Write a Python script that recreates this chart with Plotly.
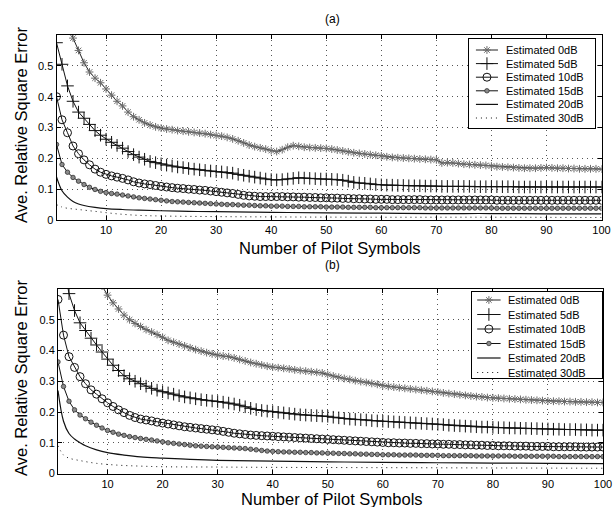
import plotly.graph_objects as go

x_full = list(range(1, 101))

# ---------------- panel (a) ----------------
a_0db = [0.85, 0.74, 0.65, 0.59, 0.55, 0.51, 0.48, 0.46, 0.445, 0.425,
         0.405, 0.385, 0.37, 0.35, 0.335, 0.325, 0.315, 0.308, 0.302, 0.298,
         0.295, 0.293, 0.29, 0.288, 0.286, 0.284, 0.282, 0.28, 0.277, 0.274,
         0.272, 0.268, 0.263, 0.257, 0.25, 0.243, 0.238, 0.234, 0.23, 0.225,
         0.222, 0.228, 0.236, 0.241, 0.239, 0.236, 0.235, 0.234, 0.233, 0.232,
         0.23, 0.227, 0.224, 0.221, 0.218, 0.216, 0.214, 0.212, 0.21, 0.208,
         0.205, 0.203, 0.202, 0.201, 0.2, 0.199, 0.198, 0.197, 0.196, 0.195,
         0.185, 0.186, 0.185, 0.183, 0.181, 0.18, 0.179, 0.178, 0.177, 0.175,
         0.173, 0.172, 0.171, 0.17, 0.169, 0.168, 0.168, 0.168, 0.169, 0.17,
         0.169, 0.168, 0.168, 0.167, 0.167, 0.166, 0.166, 0.166, 0.166, 0.165]
a_5db = [0.575, 0.505, 0.435, 0.385, 0.35, 0.33, 0.31, 0.29, 0.275, 0.262,
         0.252, 0.242, 0.233, 0.222, 0.212, 0.204, 0.197, 0.19, 0.186, 0.182,
         0.178, 0.175, 0.172, 0.17, 0.167, 0.165, 0.163, 0.161, 0.159, 0.157,
         0.156, 0.154, 0.152, 0.148, 0.145, 0.142, 0.139, 0.136, 0.133, 0.131,
         0.13, 0.131, 0.133, 0.135, 0.137, 0.136, 0.135, 0.134, 0.133, 0.133,
         0.132, 0.131, 0.129, 0.126, 0.122, 0.12, 0.119, 0.117, 0.115, 0.114,
         0.113, 0.113, 0.112, 0.112, 0.111, 0.111, 0.111, 0.11, 0.11, 0.11,
         0.109, 0.109, 0.109, 0.109, 0.109, 0.109, 0.108, 0.108, 0.108, 0.108,
         0.108, 0.108, 0.108, 0.108, 0.107, 0.107, 0.107, 0.107, 0.107, 0.107,
         0.107, 0.107, 0.107, 0.107, 0.107, 0.107, 0.107, 0.107, 0.107, 0.107]
a_10db = [0.40, 0.325, 0.283, 0.24, 0.215, 0.195, 0.179, 0.165, 0.155, 0.148,
          0.143, 0.139, 0.135, 0.13, 0.124, 0.12, 0.117, 0.115, 0.112, 0.109,
          0.107, 0.105, 0.103, 0.102, 0.1, 0.099, 0.097, 0.096, 0.094, 0.092,
          0.09, 0.088, 0.086, 0.083, 0.08, 0.078, 0.077, 0.076, 0.076, 0.076,
          0.076, 0.076, 0.075, 0.075, 0.074, 0.074, 0.073, 0.073, 0.072, 0.072,
          0.071, 0.071, 0.07, 0.07, 0.069, 0.069, 0.068, 0.068, 0.067, 0.067,
          0.067, 0.066, 0.066, 0.066, 0.066, 0.066, 0.066, 0.065, 0.065, 0.065,
          0.065, 0.065, 0.065, 0.065, 0.065, 0.065, 0.065, 0.065, 0.065, 0.065,
          0.064, 0.064, 0.064, 0.064, 0.064, 0.064, 0.064, 0.064, 0.064, 0.064,
          0.064, 0.064, 0.064, 0.064, 0.064, 0.064, 0.064, 0.064, 0.064, 0.064]
a_15db = [0.245, 0.18, 0.155, 0.138, 0.126, 0.115, 0.106, 0.099, 0.093, 0.089,
          0.086, 0.084, 0.081, 0.078, 0.075, 0.072, 0.07, 0.068, 0.066, 0.064,
          0.062, 0.06, 0.059, 0.058, 0.057, 0.056, 0.055, 0.054, 0.053, 0.052,
          0.051, 0.05, 0.05, 0.049, 0.048, 0.048, 0.047, 0.046, 0.046, 0.045,
          0.045, 0.045, 0.044, 0.044, 0.044, 0.043, 0.043, 0.043, 0.043, 0.042,
          0.042, 0.042, 0.042, 0.041, 0.041, 0.041, 0.041, 0.041, 0.04, 0.04,
          0.04, 0.04, 0.04, 0.04, 0.04, 0.04, 0.04, 0.039, 0.039, 0.039,
          0.039, 0.039, 0.039, 0.039, 0.039, 0.039, 0.039, 0.039, 0.039, 0.039,
          0.038, 0.038, 0.038, 0.038, 0.038, 0.038, 0.038, 0.038, 0.038, 0.038,
          0.038, 0.038, 0.038, 0.038, 0.038, 0.038, 0.038, 0.038, 0.038, 0.038]
a_20db_x = [1, 2, 3, 4, 5, 6, 8, 10, 13, 16, 20, 25, 30, 40, 50, 60, 70, 80, 90, 100]
a_20db = [0.14, 0.095, 0.074, 0.06, 0.052, 0.047, 0.041, 0.037, 0.034, 0.032,
          0.03, 0.028, 0.027, 0.025, 0.023, 0.022, 0.021, 0.021, 0.02, 0.02]
a_30db_x = [1, 2, 3, 5, 8, 12, 16, 20, 30, 40, 60, 80, 100]
a_30db = [0.05, 0.042, 0.038, 0.034, 0.028, 0.02, 0.015, 0.013, 0.011, 0.01, 0.009, 0.009, 0.008]

# ---------------- panel (b) ----------------
b_0db = [1.2, 1.05, 0.95, 0.86, 0.79, 0.73, 0.68, 0.64, 0.61, 0.58,
         0.555, 0.535, 0.515, 0.5, 0.488, 0.478, 0.468, 0.46, 0.452, 0.443,
         0.433, 0.427, 0.421, 0.415, 0.409, 0.403, 0.398, 0.393, 0.389, 0.385,
         0.382, 0.38, 0.376, 0.371, 0.366, 0.361, 0.357, 0.353, 0.349, 0.346,
         0.344, 0.342, 0.34, 0.337, 0.335, 0.333, 0.331, 0.329, 0.327, 0.322,
         0.317, 0.313, 0.309, 0.306, 0.302, 0.299, 0.296, 0.293, 0.29, 0.286,
         0.283, 0.281, 0.279, 0.277, 0.275, 0.273, 0.271, 0.269, 0.267, 0.265,
         0.262, 0.26, 0.258, 0.256, 0.254, 0.252, 0.25, 0.249, 0.247, 0.246,
         0.245, 0.244, 0.243, 0.242, 0.241, 0.24, 0.239, 0.238, 0.237, 0.236,
         0.235, 0.235, 0.234, 0.234, 0.233, 0.233, 0.232, 0.232, 0.231, 0.231]
b_5db = [0.8, 0.68, 0.585, 0.53, 0.49, 0.465, 0.44, 0.418, 0.395, 0.372,
         0.352, 0.335, 0.318, 0.308, 0.3, 0.292, 0.284, 0.277, 0.271, 0.266,
         0.262, 0.258, 0.253, 0.249, 0.246, 0.243, 0.24, 0.238, 0.236, 0.234,
         0.232, 0.229, 0.226, 0.222, 0.217, 0.212, 0.208, 0.205, 0.203, 0.201,
         0.199, 0.197, 0.195, 0.193, 0.191, 0.19, 0.189, 0.188, 0.187, 0.186,
         0.183, 0.181, 0.179, 0.177, 0.176, 0.175, 0.174, 0.172, 0.171, 0.17,
         0.169, 0.168, 0.167, 0.166, 0.165, 0.164, 0.163, 0.162, 0.161, 0.16,
         0.159, 0.157, 0.156, 0.155, 0.154, 0.153, 0.152, 0.151, 0.151, 0.15,
         0.149, 0.149, 0.148, 0.148, 0.147, 0.147, 0.146, 0.146, 0.145, 0.145,
         0.144, 0.144, 0.143, 0.143, 0.143, 0.142, 0.142, 0.141, 0.141, 0.141]
b_10db = [0.566, 0.45, 0.38, 0.345, 0.315, 0.292, 0.272, 0.258, 0.243, 0.23,
          0.218, 0.207, 0.198, 0.189, 0.182, 0.177, 0.174, 0.171, 0.167, 0.164,
          0.161, 0.158, 0.155, 0.152, 0.15, 0.148, 0.146, 0.144, 0.142, 0.14,
          0.137, 0.134, 0.131, 0.129, 0.127, 0.125, 0.124, 0.123, 0.122, 0.121,
          0.12, 0.119, 0.118, 0.117, 0.116, 0.115, 0.114, 0.113, 0.112, 0.111,
          0.11, 0.109, 0.108, 0.107, 0.106, 0.105, 0.104, 0.103, 0.102, 0.101,
          0.1, 0.1, 0.099, 0.099, 0.098, 0.098, 0.097, 0.097, 0.096, 0.096,
          0.095, 0.095, 0.094, 0.094, 0.093, 0.093, 0.092, 0.092, 0.091, 0.091,
          0.09, 0.09, 0.09, 0.089, 0.089, 0.089, 0.088, 0.088, 0.088, 0.088,
          0.087, 0.087, 0.087, 0.087, 0.087, 0.086, 0.086, 0.086, 0.086, 0.086]
b_15db = [0.363, 0.283, 0.235, 0.207, 0.19, 0.178, 0.167, 0.157, 0.148, 0.14,
          0.134, 0.128, 0.124, 0.12, 0.117, 0.114, 0.111, 0.109, 0.106, 0.103,
          0.1, 0.098, 0.096, 0.094, 0.092, 0.09, 0.089, 0.088, 0.087, 0.086,
          0.085, 0.084, 0.083, 0.082, 0.081, 0.079, 0.077, 0.075, 0.073, 0.072,
          0.071, 0.07, 0.07, 0.069, 0.069, 0.068, 0.068, 0.067, 0.067, 0.066,
          0.066, 0.065, 0.065, 0.064, 0.064, 0.063, 0.063, 0.062, 0.062, 0.061,
          0.061, 0.061, 0.06, 0.06, 0.06, 0.06, 0.059, 0.059, 0.059, 0.059,
          0.058, 0.058, 0.058, 0.058, 0.058, 0.058, 0.057, 0.057, 0.057, 0.057,
          0.057, 0.057, 0.057, 0.056, 0.056, 0.056, 0.056, 0.056, 0.056, 0.056,
          0.056, 0.055, 0.055, 0.055, 0.055, 0.055, 0.055, 0.055, 0.055, 0.055]
b_20db_x = [1, 2, 3, 4, 5, 6, 8, 10, 13, 16, 20, 25, 30, 40, 50, 60, 70, 80, 90, 100]
b_20db = [0.27, 0.17, 0.13, 0.112, 0.1, 0.09, 0.077, 0.068, 0.06, 0.054,
          0.05, 0.046, 0.043, 0.04, 0.038, 0.036, 0.035, 0.034, 0.033, 0.032]
b_30db_x = [1, 2, 3, 5, 8, 12, 16, 20, 30, 40, 60, 80, 100]
b_30db = [0.09, 0.06, 0.05, 0.042, 0.033, 0.027, 0.024, 0.022, 0.021, 0.02, 0.019, 0.018, 0.017]

names = ["Estimated 0dB", "Estimated 5dB", "Estimated 10dB",
         "Estimated 15dB", "Estimated 20dB", "Estimated 30dB"]
x_ticks = [10, 20, 30, 40, 50, 60, 70, 80, 90, 100]
y_ticks = [0, 0.1, 0.2, 0.3, 0.4, 0.5]
y_tick_text = ["0", "0.1", "0.2", "0.3", "0.4", "0.5"]

FONT = "Liberation Sans, Arial, sans-serif"
W, H = 614, 507

# series styles (line, marker) in legend order
STYLES = [
    (dict(color="#222", width=1),
     dict(symbol="asterisk-open", size=6.5, color="#6a6a6a",
          line=dict(color="#6a6a6a", width=1))),
    (dict(color="#111", width=1),
     dict(symbol="cross-thin-open", size=9, color="#111",
          line=dict(color="#111", width=1))),
    (dict(color="#111", width=1),
     dict(symbol="circle-open", size=8, color="#111",
          line=dict(color="#111", width=1))),
    (dict(color="#111", width=1),
     dict(symbol="circle", size=4.5, color="#8a8a8a", line=dict(color="#222", width=0.7))),
    (dict(color="#111", width=1.2, shape="spline"), None),
    (dict(color="#111", width=1, dash="1px,4px", shape="spline"), None),
]

fig = go.Figure()


def add_panel(series, xa, ya):
    for i, (xs, ys) in enumerate(series):
        line, marker = STYLES[i]
        if marker is not None:
            fig.add_trace(go.Scatter(x=xs, y=ys, name=names[i], mode="lines+markers",
                                     line=line, marker=marker, showlegend=False,
                                     xaxis=xa, yaxis=ya))
        else:
            fig.add_trace(go.Scatter(x=xs, y=ys, name=names[i], mode="lines",
                                     line=line, showlegend=False, xaxis=xa, yaxis=ya))


add_panel([(x_full, a_0db), (x_full, a_5db), (x_full, a_10db), (x_full, a_15db),
           (a_20db_x, a_20db), (a_30db_x, a_30db)], "x", "y")
add_panel([(x_full, b_0db), (x_full, b_5db), (x_full, b_10db), (x_full, b_15db),
           (b_20db_x, b_20db), (b_30db_x, b_30db)], "x2", "y2")


def px_x(p):
    return p / W


def px_y(p):
    return 1 - p / H


# ---- custom legends drawn on overlay axes (box coordinates 0..1) ----
ann = []


def add_legend(xa, ya, top_frac, step_frac, line_x0, line_x1, text_x):
    fig.add_trace(go.Scatter(x=[0, 1, 1, 0, 0], y=[0, 0, 1, 1, 0], fill="toself",
                             fillcolor="white", mode="lines", line=dict(width=0),
                             showlegend=False, hoverinfo="skip", xaxis=xa, yaxis=ya))
    for i, nm in enumerate(names):
        yy = 1 - top_frac - i * step_frac
        line, marker = STYLES[i]
        fig.add_trace(go.Scatter(x=[line_x0, line_x1], y=[yy, yy], mode="lines",
                                 line=line, showlegend=False, hoverinfo="skip",
                                 xaxis=xa, yaxis=ya))
        if marker is not None:
            fig.add_trace(go.Scatter(x=[(line_x0 + line_x1) / 2], y=[yy], mode="markers",
                                     marker=marker, showlegend=False, hoverinfo="skip",
                                     xaxis=xa, yaxis=ya))
        ann.append(dict(text=nm, x=text_x, y=yy, xref=xa, yref=ya, xanchor="left",
                        yanchor="middle", showarrow=False,
                        font=dict(family=FONT, size=11, color="black")))


add_legend("x3", "y3", 11 / 89, 13.6 / 89, 0.055, 0.23, 0.275)
add_legend("x4", "y4", 8 / 86, 14.5 / 86, 0.04, 0.22, 0.26)

axis_common = dict(showline=True, linecolor="black", linewidth=1, mirror="ticks",
                   ticks="inside", ticklen=4, tickcolor="black", automargin=False,
                   showgrid=True, gridcolor="#555", griddash="1px,4px", gridwidth=1,
                   zeroline=False, tickfont=dict(family=FONT, size=11, color="black"))
box_axis = dict(showline=True, linecolor="black", linewidth=1, mirror=True,
                showgrid=False, zeroline=False, showticklabels=False, ticks="",
                range=[0, 1], automargin=False, fixedrange=True)

fig.update_layout(
    width=W, height=H, margin=dict(l=0, r=0, t=0, b=0, autoexpand=False),
    paper_bgcolor="white", plot_bgcolor="white", showlegend=False,
    font=dict(family=FONT, color="black"),
    xaxis=dict(domain=[px_x(56.5), px_x(601.5)], range=[1, 100], anchor="y",
               tickvals=x_ticks, **axis_common),
    yaxis=dict(domain=[px_y(220), px_y(35)], range=[0, 0.6], anchor="x",
               tickvals=y_ticks, ticktext=y_tick_text, **axis_common),
    xaxis2=dict(domain=[px_x(58), px_x(603)], range=[1, 100], anchor="y2",
                tickvals=x_ticks, **axis_common),
    yaxis2=dict(domain=[px_y(473.5), px_y(289)], range=[0, 0.6], anchor="x2",
                tickvals=y_ticks, ticktext=y_tick_text, **axis_common),
    xaxis3=dict(domain=[px_x(469), px_x(595)], anchor="y3", **box_axis),
    yaxis3=dict(domain=[px_y(128), px_y(39)], anchor="x3", **box_axis),
    xaxis4=dict(domain=[px_x(472), px_x(602)], anchor="y4", **box_axis),
    yaxis4=dict(domain=[px_y(378), px_y(292)], anchor="x4", **box_axis),
)

title_font = dict(family=FONT, size=16.5, color="black")


def paper_text(text, xp, yp, font, angle=0):
    ann.append(dict(text=text, x=px_x(xp), y=px_y(yp), xref="paper", yref="paper",
                    xanchor="center", yanchor="middle", showarrow=False,
                    textangle=angle, font=font))


paper_text("(a)", 332, 19, dict(family=FONT, size=12))
paper_text("(b)", 332, 265, dict(family=FONT, size=12))
paper_text("Number of Pilot Symbols", 330, 248, title_font)
paper_text("Number of Pilot Symbols", 332, 499, title_font)
paper_text("Ave. Relative Square Error", 21, 125, title_font, -90)
paper_text("Ave. Relative Square Error", 21, 378, title_font, -90)
fig.update_layout(annotations=ann)

fig.write_html("out.html")
